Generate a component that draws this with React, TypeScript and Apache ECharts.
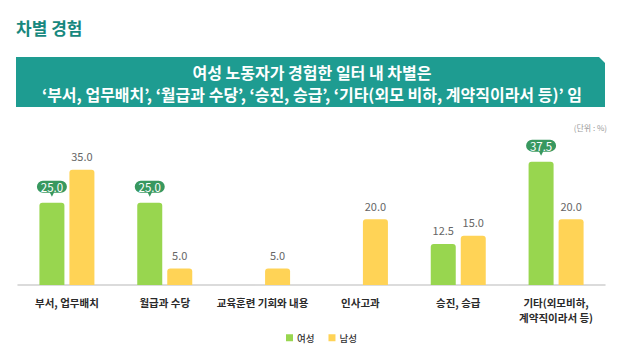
import React, { useEffect, useRef } from "react";
import * as echarts from "echarts";

const categories = [
  "부서, 업무배치",
  "월급과 수당",
  "교육훈련 기회와 내용",
  "인사고과",
  "승진, 승급",
  "기타(외모비하,\n계약직이라서 등)",
];
const femaleValues: (number | null)[] = [25.0, 25.0, null, null, 12.5, 37.5];
const maleValues = [35.0, 5.0, 5.0, 20.0, 15.0, 20.0];
const bubbleIndices = [0, 1, 5];
const seriesNames = ["여성", "남성"];
const titleText = "차별 경험";
const bannerLines = [
  "여성 노동자가 경험한 일터 내 차별은",
  "‘부서, 업무배치’, ‘월급과 수당’, ‘승진, 승급’, ‘기타(외모 비하, 계약직이라서 등)’ 임",
];
const unitText = "(단위 : %)";

const FONT = "'Noto Sans CJK KR', 'Noto Sans', sans-serif";
const GREEN = "#98d64f";
const YELLOW = "#ffd356";
const BUBBLE = "#38985f";
const TEAL = "#1e9c91";

export default function App() {
  const ref = useRef<HTMLDivElement>(null);
  useEffect(() => {
    if (!ref.current) return;
    const chart = echarts.init(ref.current, undefined, { renderer: "svg" });
    const femaleData = femaleValues.map((v, i) =>
      v == null
        ? "-"
        : {
            value: v,
            label: { show: !bubbleIndices.includes(i) },
          }
    );
    const markData = bubbleIndices.map((i) => ({
      coord: [i, femaleValues[i] as number],
      value: (femaleValues[i] as number).toFixed(1),
    }));
    chart.setOption({
      animation: false,
      textStyle: { fontFamily: FONT },
      graphic: [
        {
          type: "text",
          left: 16,
          top: 19,
          style: {
            text: titleText,
            fill: "#17887e",
            font: `bold 17px ${FONT}`,
          },
        },
        {
          type: "polygon",
          shape: {
            points: [
              [16, 57],
              [599, 57],
              [605, 63],
              [605, 107],
              [16, 107],
            ],
          },
          style: { fill: TEAL },
        },
        {
          type: "text",
          x: 312,
          y: 72,
          style: {
            text: bannerLines[0],
            fill: "#fff",
            font: `bold 16px ${FONT}`,
            align: "center",
            verticalAlign: "middle",
          },
        },
        {
          type: "text",
          x: 312,
          y: 94,
          style: {
            text: bannerLines[1],
            fill: "#fff",
            font: `bold 16px ${FONT}`,
            align: "center",
            verticalAlign: "middle",
          },
        },
        {
          type: "text",
          x: 607,
          y: 127,
          style: {
            text: unitText,
            fill: "#999",
            font: `8px ${FONT}`,
            align: "right",
            verticalAlign: "middle",
          },
        },
      ],
      legend: {
        data: seriesNames,
        top: 328,
        left: 281,
        itemWidth: 7,
        itemHeight: 7,
        itemGap: 14,
        icon: "rect",
        textStyle: { fontSize: 9.5, color: "#333", fontWeight: 500, fontFamily: FONT, padding: [0, 0, 0, -1] },
      },
      grid: { left: 18, right: 15, top: 153.4, bottom: 69 },
      xAxis: {
        type: "category",
        data: categories,
        axisLine: { lineStyle: { color: "#d0d0d0", width: 1.5 } },
        axisTick: { show: false },
        axisLabel: {
          color: "#2a2a2a",
          fontSize: 10.5,
          fontWeight: "bold",
          margin: 10,
          lineHeight: 15,
          interval: 0,
          fontFamily: FONT,
        },
      },
      yAxis: {
        type: "value",
        min: 0,
        max: 40,
        show: false,
        splitLine: { show: false },
      },
      series: [
        {
          name: seriesNames[0],
          type: "bar",
          data: femaleData,
          barWidth: 25,
          barGap: "20%",
          itemStyle: { color: GREEN, borderRadius: [3, 3, 0, 0] },
          label: {
            show: true,
            position: "top",
            distance: 8,
            color: "#666",
            fontSize: 11,
            fontFamily: FONT,
            formatter: (p: any) => Number(p.value).toFixed(1),
          },
          markPoint: {
            symbol:
              "path://M6,0 H24 A6,6 0 0 1 24,12 H17 L15,16 L13,12 H6 A6,6 0 0 1 6,0 Z",
            symbolSize: [30, 16],
            symbolOffset: [0, -14],
            itemStyle: { color: BUBBLE },
            label: {
              show: true,
              position: "inside",
              offset: [0, -2],
              color: "#fff",
              fontSize: 11.5,
              fontFamily: FONT,
              formatter: (p: any) => p.value,
            },
            data: markData,
          },
        },
        {
          name: seriesNames[1],
          type: "bar",
          data: maleValues,
          barWidth: 25,
          itemStyle: { color: YELLOW, borderRadius: [3, 3, 0, 0] },
          label: {
            show: true,
            position: "top",
            distance: 8,
            color: "#666",
            fontSize: 11,
            fontFamily: FONT,
            formatter: (p: any) => Number(p.value).toFixed(1),
          },
        },
      ],
    });
    return () => chart.dispose();
  }, []);
  return (
    <div
      ref={ref}
      style={{ position: "fixed", left: 0, top: 0, width: 620, height: 354, background: "#fff" }}
    />
  );
}
